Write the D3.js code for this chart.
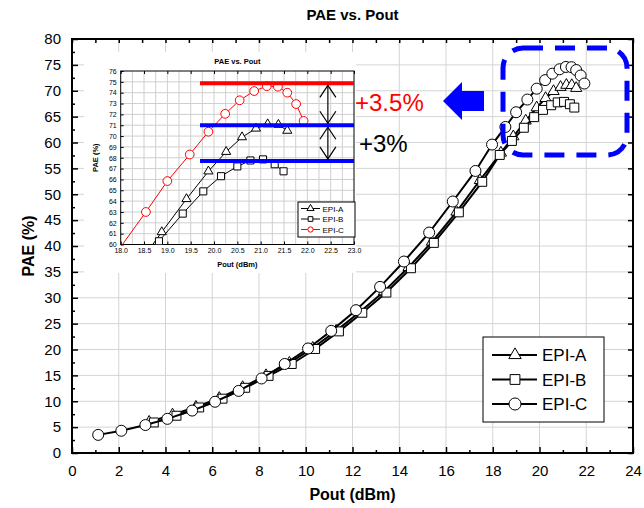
<!DOCTYPE html>
<html>
<head>
<meta charset="utf-8">
<script src="https://cdn.jsdelivr.net/npm/d3@7"></script>
<style>
  body { margin: 0; background: #fff; }
  svg { display: block; font-family: Arial, "Liberation Sans", sans-serif; }
</style>
</head>
<body>
<svg id="chart" width="644" height="508"></svg>
<script>
// data
const poutA = [3.3, 4.3, 5.3, 6.3, 7.3, 8.3, 9.3, 10.3, 11.3, 12.3, 13.35, 14.4, 15.4, 16.45, 17.45, 18.35, 18.88, 19.41, 19.88, 20.26, 20.6, 20.9, 21.15, 21.38, 21.57];
const paeA  = [6.0, 7.4, 8.9, 10.6, 12.7, 15.0, 17.4, 20.3, 23.6, 27.2, 31.2, 35.9, 40.8, 46.6, 52.7, 58.0, 61.15, 64.2, 66.75, 68.55, 69.9, 70.7, 71.1, 71.05, 70.5];
const poutB = [3.5, 4.47, 5.44, 6.44, 7.41, 8.41, 9.4, 10.4, 11.42, 12.42, 13.45, 14.5, 15.48, 16.55, 17.55, 18.3, 18.82, 19.33, 19.77, 20.15, 20.5, 20.78, 21.05, 21.3, 21.49];
const paeB  = [5.9, 7.2, 8.8, 10.5, 12.6, 14.9, 17.2, 20.1, 23.5, 27.1, 31.0, 35.7, 40.6, 46.5, 52.4, 57.6, 60.3, 62.85, 64.9, 66.3, 67.2, 67.75, 67.85, 67.4, 66.75];
const poutC = [1.12, 2.11, 3.14, 4.08, 5.14, 6.12, 7.13, 8.11, 9.1, 10.1, 11.09, 12.15, 13.18, 14.2, 15.28, 16.29, 17.26, 17.97, 18.54, 19.0, 19.48, 19.88, 20.24, 20.55, 20.86, 21.13, 21.37, 21.57, 21.76, 21.92];
const paeC  = [3.5, 4.3, 5.4, 6.6, 8.2, 9.9, 12.0, 14.4, 17.2, 20.2, 23.6, 27.6, 32.1, 37.0, 42.6, 48.6, 54.5, 59.6, 63.0, 65.85, 68.3, 70.4, 72.05, 73.3, 74.15, 74.6, 74.55, 74.0, 72.95, 71.4];

const seriesNames = ['EPI-A', 'EPI-B', 'EPI-C'];
const xTicks = d3.range(0, 25, 2);
const yTicks = d3.range(0, 81, 5);
const insetXTicks = d3.range(18, 23.01, 0.5);
const insetYTicks = d3.range(60, 77, 1);
const refLevels = [74.86, 71.0, 67.71];   // red, blue, blue
const gainLabels = ['+3.5%', '+3%'];

const series = [
  { name: seriesNames[0], x: poutA, y: paeA, sym: d3.symbolTriangle },
  { name: seriesNames[1], x: poutB, y: paeB, sym: d3.symbolSquare },
  { name: seriesNames[2], x: poutC, y: paeC, sym: d3.symbolCircle }
];
const pts = s => s.x.map((v, i) => [v, s.y[i]]);

const svg = d3.select('#chart');

// ---------- main plot ----------
const x = d3.scaleLinear().domain([0, 24]).range([72, 633]);
const y = d3.scaleLinear().domain([0, 80]).range([453, 39]);

const grid = svg.append('g').attr('stroke', '#d4d4d4').attr('stroke-width', 1);
grid.selectAll('.gx').data(xTicks.slice(1, -1)).join('line')
  .attr('x1', d => x(d)).attr('x2', d => x(d)).attr('y1', y(0)).attr('y2', y(80));
grid.selectAll('.gy').data(yTicks.slice(1, -1)).join('line')
  .attr('x1', x(0)).attr('x2', x(24)).attr('y1', d => y(d)).attr('y2', d => y(d));

const styleAxis = g => {
  g.select('.domain').remove();
  g.selectAll('line').attr('stroke', '#000').attr('stroke-width', 1.5);
  g.selectAll('text').attr('font-size', 15).attr('fill', '#000');
};

svg.append('g').attr('transform', `translate(0,${y(0)})`)
  .call(d3.axisBottom(x).tickValues(xTicks).tickSizeInner(-6).tickSizeOuter(0).tickPadding(12))
  .call(styleAxis);
svg.append('g').attr('transform', `translate(0,${y(0)})`)
  .call(d3.axisBottom(x).tickValues(d3.range(1, 24, 2)).tickSizeInner(-3).tickSizeOuter(0).tickFormat(''))
  .call(styleAxis);
svg.append('g').attr('transform', `translate(0,${y(80)})`)
  .call(d3.axisTop(x).tickValues(d3.range(0, 25, 1)).tickSizeInner(-4).tickSizeOuter(0).tickFormat(''))
  .call(styleAxis);
svg.append('g').attr('transform', `translate(${x(0)},0)`)
  .call(d3.axisLeft(y).tickValues(yTicks).tickSizeInner(-6).tickSizeOuter(0).tickPadding(11))
  .call(styleAxis);
svg.append('g').attr('transform', `translate(${x(0)},0)`)
  .call(d3.axisLeft(y).tickValues(d3.range(2.5, 80, 5)).tickSizeInner(-3).tickSizeOuter(0).tickFormat(''))
  .call(styleAxis);
svg.append('g').attr('transform', `translate(${x(24)},0)`)
  .call(d3.axisRight(y).tickValues(yTicks).tickSizeInner(-5).tickSizeOuter(0).tickFormat(''))
  .call(styleAxis);

svg.append('rect')
  .attr('x', x(0)).attr('y', y(80)).attr('width', x(24) - x(0)).attr('height', y(0) - y(80))
  .attr('fill', 'none').attr('stroke', '#000').attr('stroke-width', 2);

svg.append('text').attr('x', (x(0) + x(24)) / 2).attr('y', 20)
  .attr('text-anchor', 'middle').attr('font-size', 15).attr('font-weight', 'bold').text('PAE vs. Pout');
svg.append('text').attr('x', (x(0) + x(24)) / 2).attr('y', 500)
  .attr('text-anchor', 'middle').attr('font-size', 16).attr('font-weight', 'bold').text('Pout (dBm)');
svg.append('text').attr('transform', `translate(34,${(y(0) + y(80)) / 2}) rotate(-90)`)
  .attr('text-anchor', 'middle').attr('font-size', 16).attr('font-weight', 'bold').text('PAE (%)');

const mainSize = { [seriesNames[0]]: 55, [seriesNames[1]]: 80, [seriesNames[2]]: 95 };
const line = d3.line().x(d => x(d[0])).y(d => y(d[1]));
series.forEach(s => {
  const g = svg.append('g');
  g.append('path').attr('d', line(pts(s))).attr('fill', 'none').attr('stroke', '#000').attr('stroke-width', 2);
  g.selectAll('path.m').data(pts(s)).join('path').attr('class', 'm')
    .attr('transform', d => `translate(${x(d[0])},${y(d[1])})`)
    .attr('d', d3.symbol(s.sym, mainSize[s.name]))
    .attr('fill', '#fff').attr('stroke', '#000').attr('stroke-width', 1);
});

// main legend
const lg = svg.append('g').attr('transform', 'translate(483,337)');
lg.append('rect').attr('width', 121).attr('height', 85).attr('fill', '#fff').attr('stroke', '#000').attr('stroke-width', 1);
series.forEach((s, i) => {
  const yy = 18 + i * 24.5;
  lg.append('line').attr('x1', 9).attr('x2', 54).attr('y1', yy).attr('y2', yy).attr('stroke', '#000').attr('stroke-width', 2);
  lg.append('path').attr('transform', `translate(32,${yy})`).attr('d', d3.symbol(s.sym, mainSize[s.name] * 1.2))
    .attr('fill', '#fff').attr('stroke', '#000').attr('stroke-width', 1);
  lg.append('text').attr('x', 59).attr('y', yy + 6).attr('font-size', 17).text(s.name);
});

// ---------- inset ----------
const ix = d3.scaleLinear().domain([18, 23]).range([120.7, 354]);
const iy = d3.scaleLinear().domain([60, 76]).range([244.5, 71]);

svg.append('rect').attr('x', 84).attr('y', 52).attr('width', 272).attr('height', 221).attr('fill', '#fff');

const ig = svg.append('g').attr('stroke', '#cfcfcf').attr('stroke-width', 1);
ig.selectAll('.v').data(d3.range(18.25, 23, 0.25)).join('line')
  .attr('x1', d => ix(d)).attr('x2', d => ix(d)).attr('y1', iy(60)).attr('y2', iy(76));
ig.selectAll('.h').data(insetYTicks.slice(1, -1)).join('line')
  .attr('x1', ix(18)).attr('x2', ix(23)).attr('y1', d => iy(d)).attr('y2', d => iy(d));

const styleInset = g => {
  g.select('.domain').remove();
  g.selectAll('line').attr('stroke', '#000');
  g.selectAll('text').attr('font-size', 7).attr('fill', '#000');
};
svg.append('g').attr('transform', `translate(0,${iy(60)})`)
  .call(d3.axisBottom(ix).tickValues(insetXTicks).tickFormat(d3.format('.1f')).tickSizeInner(-3).tickSizeOuter(0).tickPadding(4))
  .call(styleInset);
svg.append('g').attr('transform', `translate(${ix(18)},0)`)
  .call(d3.axisLeft(iy).tickValues(insetYTicks).tickSizeInner(-3).tickSizeOuter(0).tickPadding(4))
  .call(styleInset);
svg.append('g').attr('transform', `translate(0,${iy(76)})`)
  .call(d3.axisTop(ix).tickValues(insetXTicks).tickSizeInner(-3).tickSizeOuter(0).tickFormat(''))
  .call(styleInset);
svg.append('rect').attr('x', ix(18)).attr('y', iy(76)).attr('width', ix(23) - ix(18)).attr('height', iy(60) - iy(76))
  .attr('fill', 'none').attr('stroke', '#000').attr('stroke-width', 1);

svg.append('text').attr('x', (ix(18) + ix(23)) / 2).attr('y', 64).attr('text-anchor', 'middle')
  .attr('font-size', 7.5).attr('font-weight', 'bold').text('PAE vs. Pout');
svg.append('text').attr('x', (ix(18) + ix(23)) / 2).attr('y', 267).attr('text-anchor', 'middle')
  .attr('font-size', 7.5).attr('font-weight', 'bold').text('Pout (dBm)');
svg.append('text').attr('transform', `translate(98,${(iy(60) + iy(76)) / 2}) rotate(-90)`).attr('text-anchor', 'middle')
  .attr('font-size', 7.5).attr('font-weight', 'bold').text('PAE (%)');

svg.append('clipPath').attr('id', 'iclip').append('rect')
  .attr('x', ix(18)).attr('y', iy(76)).attr('width', ix(23) - ix(18)).attr('height', iy(60) - iy(76));

const iline = d3.line().x(d => ix(d[0])).y(d => iy(d[1]));
const insetColor = { [seriesNames[0]]: '#000', [seriesNames[1]]: '#000', [seriesNames[2]]: '#ff0000' };
const insetSize = { [seriesNames[0]]: 36, [seriesNames[1]]: 50, [seriesNames[2]]: 60 };
const inner = svg.append('g').attr('clip-path', 'url(#iclip)');
series.forEach(s => {
  inner.append('path').attr('d', iline(pts(s))).attr('fill', 'none').attr('stroke', insetColor[s.name]).attr('stroke-width', 1);
  inner.selectAll(null).data(pts(s).filter(d => d[1] >= 60 && d[0] >= 18)).join('path')
    .attr('transform', d => `translate(${ix(d[0])},${iy(d[1])})`)
    .attr('d', d3.symbol(s.sym, insetSize[s.name]))
    .attr('fill', '#fff').attr('stroke', insetColor[s.name]).attr('stroke-width', 1);
});

// reference levels and arrows
const refColors = ['#ff0000', '#0000ff', '#0000ff'];
svg.selectAll('.ref').data(refLevels).join('line')
  .attr('x1', ix(19.7)).attr('x2', ix(23)).attr('y1', d => iy(d)).attr('y2', d => iy(d))
  .attr('stroke', (d, i) => refColors[i]).attr('stroke-width', 4);

const ax = ix(22.44);
const dbl = (y1, y2) => {
  const g = svg.append('g').attr('stroke', '#000').attr('stroke-width', 1.2).attr('fill', 'none');
  g.append('line').attr('x1', ax).attr('x2', ax).attr('y1', y1).attr('y2', y2);
  g.append('path').attr('d', `M${ax - 8},${y1 + 12}L${ax},${y1}L${ax + 8},${y1 + 12}`);
  g.append('path').attr('d', `M${ax - 8},${y2 - 12}L${ax},${y2}L${ax + 8},${y2 - 12}`);
};
dbl(iy(refLevels[0]) + 2, iy(refLevels[1]) - 2);
dbl(iy(refLevels[1]) + 2, iy(refLevels[2]) - 2);

// inset legend
const il = svg.append('g').attr('transform', 'translate(298,202)');
il.append('rect').attr('width', 57).attr('height', 35).attr('fill', '#fff').attr('stroke', '#000').attr('stroke-width', 1);
series.forEach((s, i) => {
  const yy = 6.5 + i * 10.5;
  il.append('line').attr('x1', 3).attr('x2', 22).attr('y1', yy).attr('y2', yy).attr('stroke', insetColor[s.name]);
  il.append('path').attr('transform', `translate(12.5,${yy})`).attr('d', d3.symbol(s.sym, 22))
    .attr('fill', '#fff').attr('stroke', insetColor[s.name]);
  il.append('text').attr('x', 24.5).attr('y', yy + 3).attr('font-size', 8).text(s.name);
});

// annotations
svg.append('text').attr('x', 355).attr('y', 111).attr('font-size', 24).attr('fill', '#ff0000').text(gainLabels[0]);
svg.append('text').attr('x', 359).attr('y', 152).attr('font-size', 24).attr('fill', '#000').text(gainLabels[1]);

svg.append('path')
  .attr('d', 'M443,101 L462,82 L462,91 L484,91 L484,111 L462,111 L462,120 Z')
  .attr('fill', '#0000ff');

svg.append('rect').attr('x', 503).attr('y', 48).attr('width', 124).attr('height', 107).attr('rx', 20)
  .attr('fill', 'none').attr('stroke', '#0000ff').attr('stroke-width', 5).attr('stroke-dasharray', '20,12');
</script>
</body>
</html>
